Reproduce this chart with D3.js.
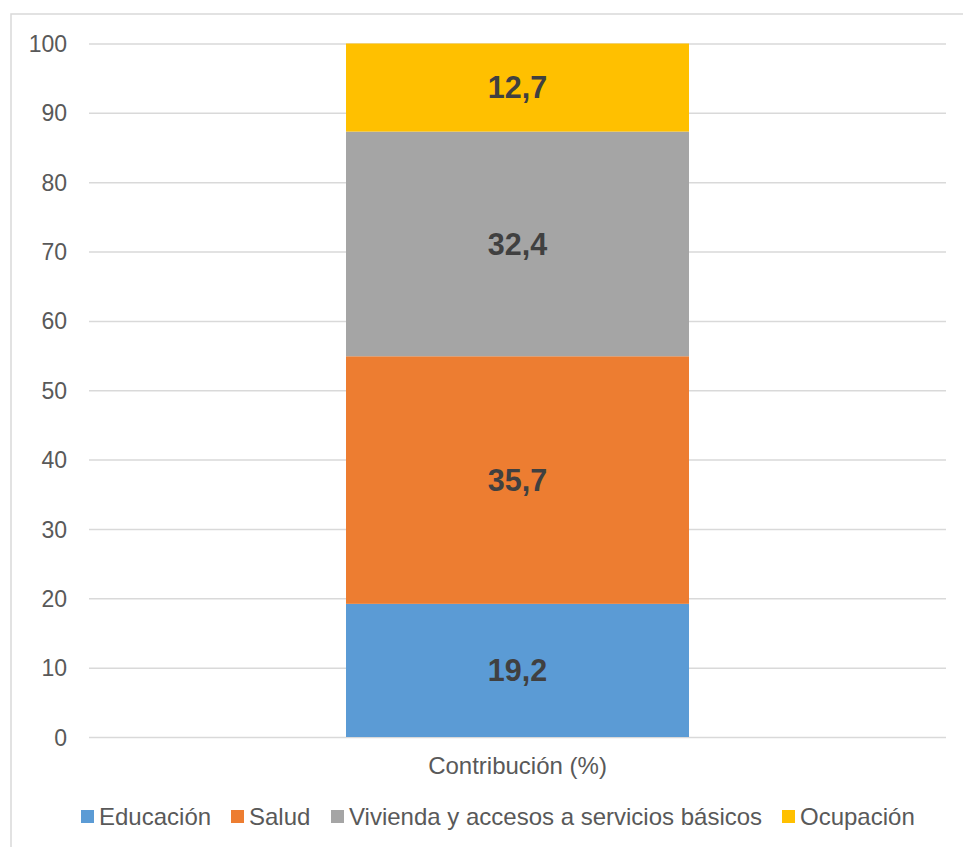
<!DOCTYPE html>
<html><head><meta charset="utf-8">
<script src="https://cdn.jsdelivr.net/npm/d3@7"></script>
<style>body{margin:0;background:#fff;}svg{display:block;font-family:"Liberation Sans",Arial,sans-serif;}</style>
</head><body>
<svg id="c" width="963" height="847"></svg>
<script>
const categories = ["Contribución (%)"];
const series = ["Educación", "Salud", "Vivienda y accesos a servicios básicos", "Ocupación"];
const values = [19.2, 35.7, 32.4, 12.7];
const colors = ["#5B9BD5", "#ED7D31", "#A5A5A5", "#FFC000"];
const yTicks = [0, 10, 20, 30, 40, 50, 60, 70, 80, 90, 100];

const svg = d3.select("#c");
svg.append("rect").attr("x", 11).attr("y", 14).attr("width", 1000).attr("height", 900)
  .attr("fill", "#fff").attr("stroke", "#d9d9d9").attr("stroke-width", 1.5);

const m = {l: 89, r: 946, t: 43.5, b: 737};
const y = d3.scaleLinear().domain([0, 100]).range([m.b, m.t]);
const x = d3.scaleBand().domain(categories).range([m.l, m.r]).paddingInner(0.4).paddingOuter(0.3);

const yAxis = d3.axisLeft(y).tickValues(yTicks).tickSize(-(m.r - m.l)).tickPadding(22).tickFormat(d3.format("d"));
const gy = svg.append("g").attr("transform", `translate(${m.l},0)`).call(yAxis);
gy.select(".domain").remove();
gy.selectAll("line").attr("stroke", "#d9d9d9").attr("stroke-width", 1.5);
gy.selectAll("text").attr("fill", "#595959").attr("font-size", 23).attr("dy", "0.35em");

let acc = 0;
const stack = values.map((v, i) => { const s = {name: series[i], v, y0: acc, y1: acc + v, c: colors[i]}; acc += v; return s; });
const bw = 343;
const bx = x(categories[0]) + x.bandwidth() / 2 - bw / 2;
svg.selectAll(".bar").data(stack).join("rect")
  .attr("x", bx).attr("width", bw)
  .attr("y", d => y(d.y1)).attr("height", d => y(d.y0) - y(d.y1))
  .attr("fill", d => d.c);
svg.selectAll(".lbl").data(stack).join("text")
  .attr("x", bx + bw / 2).attr("y", d => y((d.y0 + d.y1) / 2)).attr("dy", "0.35em")
  .attr("text-anchor", "middle").attr("font-weight", "bold").attr("font-size", 30.5).attr("fill", "#404040")
  .text(d => d3.format(".1f")(d.v).replace(".", ","));

const xAxis = d3.axisBottom(x).tickSize(0).tickPadding(20);
const gx = svg.append("g").attr("transform", `translate(0,${m.b})`).call(xAxis);
gx.select(".domain").remove();
gx.selectAll("text").attr("fill", "#595959").attr("font-size", 24);

const legX = [81, 231, 331, 782];
const lg = svg.append("g");
series.forEach((s, i) => {
  lg.append("rect").attr("x", legX[i]).attr("y", 810).attr("width", 13).attr("height", 13).attr("fill", colors[i]);
  lg.append("text").attr("x", legX[i] + 18).attr("y", 825).attr("font-size", 24).attr("fill", "#595959").text(s);
});
</script>
</body></html>
